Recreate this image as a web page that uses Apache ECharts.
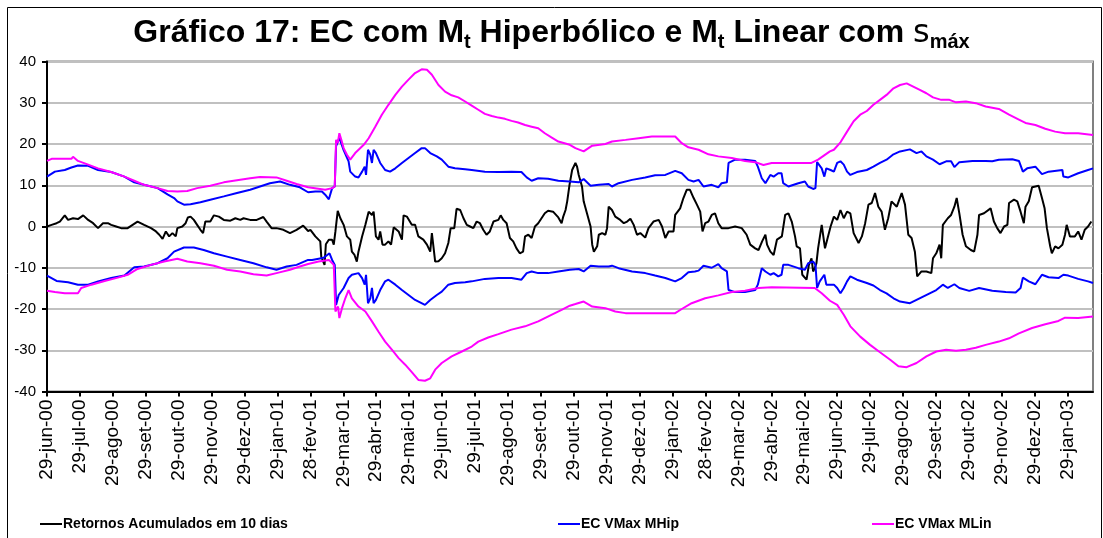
<!DOCTYPE html>
<html>
<head>
<meta charset="utf-8">
<script src="https://cdn.jsdelivr.net/npm/echarts@6/dist/echarts.min.js"></script>
<style>
html, body { margin: 0; padding: 0; background: #fff; }
#chart { width: 1103px; height: 538px; }
</style>
</head>
<body>
<div id="chart"></div>
<script>
// x = meses desde 29-jun-00 (um tick por mes)
const tickLabels = ['29-jun-00','29-jul-00','29-ago-00','29-set-00','29-out-00','29-nov-00','29-dez-00','29-jan-01','28-fev-01','29-mar-01','29-abr-01','29-mai-01','29-jun-01','29-jul-01','29-ago-01','29-set-01','29-out-01','29-nov-01','29-dez-01','29-jan-02','28-fev-02','29-mar-02','29-abr-02','29-mai-02','29-jun-02','29-jul-02','29-ago-02','29-set-02','29-out-02','29-nov-02','29-dez-02','29-jan-03'];

const retornos = [
[0.00,0],[0.14,0.4],[0.29,0.8],[0.39,1.2],[0.54,2.7],[0.64,1.6],[0.79,2.0],[0.94,1.8],[1.10,2.7],[1.25,1.6],[1.40,0.8],[1.55,-0.4],[1.70,0.8],[1.85,0.8],[1.95,0.4],[2.10,0],[2.25,-0.4],[2.45,-0.4],[2.60,0.4],[2.75,1.2],[2.95,0.4],[3.16,-0.4],[3.31,-1.2],[3.41,-2.0],[3.51,-3.0],[3.61,-1.2],[3.71,-2.4],[3.81,-1.6],[3.91,-2.4],[3.96,-0.4],[4.11,0],[4.21,0.8],[4.28,2.2],[4.36,2.4],[4.46,1.6],[4.56,0.4],[4.66,-0.8],[4.74,-1.6],[4.81,1.2],[4.96,1.2],[5.07,2.7],[5.22,2.4],[5.37,1.6],[5.57,1.4],[5.72,2.0],[5.87,1.6],[5.97,2.0],[6.17,1.6],[6.37,1.6],[6.57,2.3],[6.67,1.2],[6.82,-0.4],[6.97,-0.4],[7.18,-0.8],[7.38,-1.6],[7.58,-0.8],[7.78,0.2],[7.93,-1.1],
[8.00,-0.8],[8.15,-2.4],[8.30,-3.6],[8.33,-7.3],[8.38,-6.9],[8.43,-9.3],[8.47,-4.3],[8.56,-3.2],[8.66,-3.2],[8.71,-4.4],[8.76,-1.2],[8.83,3.8],[8.91,2.0],[9.01,0.4],[9.11,-2.4],[9.21,-3.2],[9.26,-6.1],[9.34,-6.9],[9.41,-8.5],[9.46,-6.1],[9.57,-2.4],[9.67,0.4],[9.77,3.6],[9.87,2.8],[9.92,3.6],[9.99,-2.4],[10.07,-3.2],[10.12,-1.2],[10.19,-4.4],[10.27,-4.4],[10.37,-3.6],[10.45,-4.4],[10.53,-0.2],[10.68,-1.2],[10.78,-3.2],[10.83,2.7],[10.93,2.4],[11.08,0.4],[11.18,0.4],[11.28,-2.4],[11.43,-3.2],[11.54,-4.4],[11.64,-6.1],[11.69,-1.6],[11.79,-8.5],[11.89,-8.4],[11.99,-7.7],[12.09,-6.5],[12.19,-4.0],[12.26,-0.4],[12.37,-0.4],[12.44,4.3],[12.55,4.0],[12.65,2.0],[12.75,0.4],[12.85,0],[12.95,-0.4],[13.05,1.2],[13.15,0.8],[13.25,-0.8],[13.35,-2.0],[13.45,-1.2],[13.56,1.2],[13.71,1.6],[13.78,2.7],[13.86,1.6],[13.96,0.8],[14.06,-2.8],[14.16,-3.6],[14.26,-5.3],[14.36,-6.5],[14.46,-6.1],[14.52,-2.4],[14.62,-2.0],[14.72,-2.8],[14.82,0],[14.92,0.8],[14.97,1.2],[15.12,3.2],[15.22,3.8],[15.37,3.6],[15.53,2.2],[15.63,0.8],[15.68,2.4],[15.75,4.0],
[15.80,6.1],[15.87,10.1],[15.95,13.7],[16.05,15.4],[16.10,14.5],[16.15,12.5],[16.25,9.7],[16.30,6.1],[16.40,3.2],[16.51,0],[16.56,-4.4],[16.61,-6.1],[16.71,-4.8],[16.76,-2.0],[16.86,-1.6],[16.96,-2.0],[17.01,-0.4],[17.06,4.8],[17.16,4.0],[17.26,2.4],[17.41,1.6],[17.52,0.8],[17.62,1.2],[17.72,1.9],[17.82,0.4],[17.92,-2.0],[18.02,-1.6],[18.17,-2.7],[18.27,-0.4],[18.42,1.2],[18.58,1.6],[18.68,0],[18.78,-2.8],[18.88,-1.2],[19.03,-1.2],[19.08,2.8],[19.23,4.4],[19.33,6.9],[19.43,8.9],[19.53,8.9],[19.64,6.9],[19.74,5.3],[19.84,3.6],[19.91,-1.2],[19.99,0.8],[20.09,1.2],[20.19,2.8],[20.29,3.2],[20.39,0.8],[20.49,-0.4],[20.70,-0.4],[20.90,0],[21.10,-0.4],[21.25,-2.0],[21.36,-4.4],[21.51,-5.3],[21.61,-5.7],[21.72,-3.6],[21.82,-2.0],[21.87,-4.4],[21.97,-6.1],[22.07,-6.9],[22.17,-3.2],[22.32,-2.4],[22.42,2.8],[22.52,3.2],[22.62,1.2],[22.72,-2.4],[22.77,-4.8],[22.87,-5.3],[22.94,-11.7],[23.07,-12.9],[23.14,-9.3],[23.22,-7.7],[23.27,-10.9],[23.32,-10.1],[23.37,-8.9],[23.42,-5.3],[23.53,0.4],[23.63,-5.3],
[23.80,0],[23.90,2.4],[24.00,1.6],[24.10,4.0],[24.20,2.0],[24.30,3.6],[24.40,3.2],[24.50,-1.6],[24.65,-4.0],[24.75,-2.4],[24.85,0.8],[24.95,5.3],[25.05,5.7],[25.15,8.1],[25.25,4.8],[25.35,3.6],[25.45,-0.8],[25.55,2.0],[25.65,6.1],[25.81,4.8],[25.96,8.1],[26.06,5.3],[26.16,-2.0],[26.26,-2.8],[26.36,-6.1],[26.43,-12.1],[26.56,-10.9],[26.71,-10.9],[26.86,-11.3],[26.91,-7.7],[27.01,-6.5],[27.11,-4.4],[27.16,-7.7],[27.21,0.4],[27.36,2.0],[27.46,2.8],[27.56,4.8],[27.63,6.9],[27.71,3.2],[27.81,-2.0],[27.91,-4.8],[28.06,-5.7],[28.16,-6.1],[28.26,-2.0],[28.31,2.8],[28.46,3.2],[28.66,4.4],[28.76,1.2],[28.86,-0.4],[28.96,-1.6],[29.07,0],[29.17,0.4],[29.22,5.7],[29.37,6.5],[29.47,6.1],[29.57,3.6],[29.67,0.8],[29.72,4.8],[29.82,6.1],[29.92,9.5],[30.02,9.7],[30.12,9.9],[30.22,6.9],[30.30,4.4],[30.37,-0.4],[30.47,-4.8],[30.52,-6.5],[30.62,-4.8],[30.72,-5.3],[30.84,-4.4],[30.92,-2.0],[30.97,0.4],[31.07,-2.4],[31.22,-2.4],[31.32,-1.2],[31.42,-3.2],[31.52,-0.8],[31.62,0],[31.72,1.2]
];

const mhipUp = [
[0.00,12.1],[0.24,13.3],[0.54,13.7],[0.74,14.3],[0.94,14.8],[1.25,14.7],[1.55,13.7],[1.95,13.2],[2.35,12.1],[2.65,10.7],[2.95,10.1],[3.36,9.3],[3.66,7.8],[3.86,6.9],[3.96,6.1],[4.16,5.3],[4.36,5.4],[4.66,5.9],[4.96,6.5],[5.37,7.3],[5.77,8.1],[6.17,8.9],[6.47,9.7],[6.77,10.5],[7.08,10.9],[7.38,10.1],[7.68,9.5],[7.93,8.3],
[8.15,8.5],[8.35,8.5],[8.45,7.7],[8.56,6.6],[8.66,9.3],[8.74,9.7],[8.78,19.5],[8.88,21.5],[9.01,18.5],[9.16,15.8],[9.21,13.3],[9.36,12.1],[9.46,11.9],[9.57,13.3],[9.65,14.5],[9.69,12.5],[9.75,18.6],[9.82,17.4],[9.87,15.4],[9.92,18.6],[9.99,17.8],[10.12,15.4],[10.27,13.7],[10.42,13.3],[10.58,14.1],[10.78,15.4],[10.98,16.6],[11.18,17.8],[11.38,19.0],[11.48,19.0],[11.64,17.8],[11.84,17.0],[11.99,16.2],[12.19,14.5],[12.39,14.1],[12.70,13.9],[12.90,13.7],[13.30,13.3],[13.71,13.2],[14.11,13.3],[14.41,13.2],[14.57,11.9],[14.72,11.1],[14.92,11.7],[15.22,11.6],[15.53,11.1],[15.88,10.9],
[16.15,10.7],[16.30,11.5],[16.51,9.9],[16.76,10.1],[17.06,10.3],[17.16,9.7],[17.36,10.5],[17.77,11.3],[18.17,11.9],[18.47,12.4],[18.78,12.5],[19.08,13.5],[19.28,12.9],[19.48,11.3],[19.64,10.9],[19.79,11.3],[19.94,9.7],[20.19,10.1],[20.39,9.5],[20.49,10.5],[20.65,10.7],[20.70,15.4],[20.90,16.2],[21.20,16.2],[21.51,15.9],[21.59,14.5],[21.71,11.7],[21.82,10.5],[21.97,12.5],[22.07,12.1],[22.21,12.9],[22.31,12.9],[22.36,10.5],[22.52,9.7],[22.82,10.5],[23.02,10.9],[23.12,9.7],[23.27,9.1],[23.34,9.3],[23.39,15.6],[23.53,14.1],[23.61,12.1],[23.67,14.1],
[23.80,13.7],[23.90,13.3],[24.00,15.4],[24.10,15.8],[24.20,15.0],[24.30,13.3],[24.40,12.5],[24.60,13.2],[24.90,13.7],[25.10,14.5],[25.30,15.4],[25.50,16.2],[25.71,17.5],[25.91,18.2],[26.21,18.7],[26.41,17.8],[26.56,18.2],[26.71,17.0],[26.91,16.2],[27.11,15.1],[27.31,15.8],[27.46,15.8],[27.56,14.4],[27.71,15.6],[28.11,15.9],[28.51,15.9],[28.71,15.8],[28.91,16.2],[29.32,16.3],[29.52,15.9],[29.64,13.3],[29.77,14.1],[30.02,14.5],[30.22,12.7],[30.42,13.3],[30.84,13.7],[30.87,12.1],[31.02,11.9],[31.32,12.9],[31.62,13.7],[31.77,14.1]
];

const mhipDn = [
[0.00,-11.9],[0.29,-13.2],[0.64,-13.5],[0.94,-14.1],[1.25,-14.1],[1.55,-13.3],[1.95,-12.5],[2.35,-11.9],[2.65,-9.9],[2.95,-9.7],[3.36,-8.9],[3.66,-7.7],[3.86,-6.1],[4.16,-5.1],[4.46,-5.1],[4.76,-5.7],[5.07,-6.5],[5.47,-7.3],[5.87,-8.1],[6.27,-8.9],[6.67,-9.9],[6.97,-10.5],[7.28,-9.7],[7.58,-9.3],[7.93,-8.1],
[8.05,-8.1],[8.25,-7.8],[8.40,-7.6],[8.51,-6.9],[8.58,-6.5],[8.66,-8.1],[8.74,-9.3],[8.78,-19.0],[8.86,-16.6],[9.01,-14.9],[9.16,-12.5],[9.26,-11.7],[9.46,-11.3],[9.57,-12.5],[9.65,-14.1],[9.69,-11.7],[9.75,-18.6],[9.82,-17.4],[9.87,-14.9],[9.92,-18.6],[9.99,-17.8],[10.12,-15.4],[10.27,-13.3],[10.37,-12.9],[10.58,-14.1],[10.78,-15.4],[10.98,-16.6],[11.18,-17.8],[11.48,-19.0],[11.64,-17.8],[11.84,-16.6],[11.99,-15.8],[12.19,-14.1],[12.39,-13.7],[12.70,-13.5],[12.90,-13.3],[13.30,-12.7],[13.71,-12.5],[14.11,-12.5],[14.41,-12.9],[14.57,-11.3],[14.72,-10.9],[14.92,-11.3],[15.22,-11.3],[15.53,-10.9],[15.88,-10.5],
[16.15,-10.3],[16.30,-10.9],[16.51,-9.5],[16.76,-9.7],[17.06,-9.7],[17.16,-9.5],[17.36,-10.1],[17.77,-10.9],[18.17,-11.3],[18.47,-11.9],[18.78,-12.5],[19.08,-13.3],[19.28,-12.5],[19.48,-11.1],[19.68,-10.9],[19.79,-10.7],[19.94,-9.5],[20.19,-10.0],[20.39,-9.1],[20.49,-10.1],[20.65,-10.9],[20.70,-15.4],[20.90,-15.9],[21.20,-15.9],[21.51,-15.4],[21.59,-14.1],[21.71,-10.1],[21.82,-10.9],[21.97,-11.7],[22.07,-11.3],[22.21,-12.1],[22.31,-11.7],[22.36,-9.3],[22.52,-9.3],[22.82,-10.1],[23.02,-10.5],[23.12,-8.9],[23.27,-8.5],[23.34,-9.3],[23.39,-14.9],[23.47,-13.3],[23.61,-11.7],[23.67,-14.1],
[23.80,-14.1],[23.90,-14.1],[24.00,-14.9],[24.10,-16.2],[24.20,-14.9],[24.30,-13.3],[24.40,-12.1],[24.60,-12.9],[24.90,-13.7],[25.10,-14.3],[25.30,-15.4],[25.50,-16.2],[25.71,-17.4],[25.91,-18.2],[26.21,-18.6],[26.41,-17.8],[26.61,-17.0],[26.81,-16.2],[27.01,-15.4],[27.21,-14.1],[27.36,-14.9],[27.56,-14.0],[27.71,-14.9],[28.01,-15.6],[28.31,-14.9],[28.71,-15.6],[29.12,-15.9],[29.42,-16.0],[29.57,-14.9],[29.64,-12.4],[29.82,-13.3],[30.02,-14.0],[30.22,-11.7],[30.42,-12.3],[30.72,-12.5],[30.87,-11.7],[31.02,-11.9],[31.32,-12.7],[31.62,-13.3],[31.77,-13.7]
];

const mlinUp = [
[0.00,15.9],[0.14,16.4],[0.74,16.4],[0.79,16.9],[0.94,15.9],[1.25,15.0],[1.55,14.1],[1.95,13.2],[2.35,12.1],[2.65,11.1],[2.95,10.1],[3.36,9.3],[3.66,8.6],[3.96,8.5],[4.26,8.6],[4.56,9.3],[4.96,9.9],[5.37,10.7],[5.77,11.2],[6.17,11.7],[6.47,12.0],[6.97,11.9],[7.28,11.1],[7.58,10.3],[7.93,9.5],
[8.45,8.9],[8.66,9.3],[8.74,9.7],[8.78,21.0],[8.83,20.2],[8.88,22.6],[8.94,21.0],[9.01,19.0],[9.11,17.4],[9.21,16.2],[9.36,17.8],[9.62,19.8],[9.77,21.4],[9.97,24.2],[10.17,27.1],[10.37,29.5],[10.58,31.9],[10.78,33.9],[10.98,35.6],[11.18,37.2],[11.38,38.1],[11.54,38.0],[11.69,36.8],[11.89,34.3],[12.09,32.7],[12.29,31.8],[12.49,31.3],[12.70,30.3],[12.90,29.3],[13.10,28.3],[13.30,27.3],[13.51,26.8],[13.71,26.4],[13.91,26.1],[14.11,25.6],[14.31,25.2],[14.52,24.6],[14.72,24.2],[14.92,23.8],[15.12,22.6],[15.32,21.6],[15.53,20.6],[15.88,19.8],
[16.05,19.0],[16.30,18.2],[16.56,19.6],[16.96,20.0],[17.16,20.6],[17.57,21.0],[17.97,21.4],[18.37,21.8],[19.08,21.8],[19.28,20.2],[19.48,19.2],[19.79,18.6],[20.09,17.5],[20.39,17.0],[20.80,16.6],[21.20,15.9],[21.51,15.6],[21.76,14.9],[22.01,15.4],[23.22,15.4],[23.42,16.2],[23.78,18.2],
[23.90,18.6],[24.10,20.4],[24.30,23.0],[24.50,25.5],[24.70,27.1],[24.90,28.0],[25.10,29.5],[25.30,30.7],[25.50,31.9],[25.71,33.5],[25.91,34.3],[26.11,34.7],[26.31,33.9],[26.51,33.1],[26.71,32.3],[26.91,31.3],[27.16,30.7],[27.41,30.7],[27.61,30.1],[27.91,30.3],[28.21,29.9],[28.51,29.1],[28.91,28.5],[29.22,27.1],[29.52,25.9],[29.72,25.1],[30.02,24.6],[30.32,23.7],[30.62,23.0],[30.92,22.6],[31.32,22.6],[31.77,22.2]
];

const mlinDn = [
[0.00,-15.6],[0.24,-15.9],[0.54,-16.2],[0.94,-16.2],[1.04,-14.9],[1.35,-14.1],[1.75,-13.2],[2.15,-12.4],[2.45,-11.7],[2.75,-10.3],[3.16,-9.3],[3.56,-8.5],[3.96,-7.8],[4.26,-8.5],[4.66,-8.9],[5.07,-9.5],[5.47,-10.5],[5.87,-10.9],[6.27,-11.6],[6.67,-11.9],[6.97,-11.3],[7.38,-10.5],[7.68,-9.7],[7.93,-9.1],
[8.25,-8.5],[8.56,-8.1],[8.71,-9.3],[8.76,-20.6],[8.84,-19.4],[8.88,-22.2],[8.96,-19.8],[9.06,-17.4],[9.16,-15.4],[9.26,-17.4],[9.46,-19.4],[9.67,-20.6],[9.87,-23.0],[10.07,-25.5],[10.27,-27.9],[10.48,-29.9],[10.68,-31.9],[10.88,-33.5],[11.08,-35.3],[11.28,-37.2],[11.48,-37.4],[11.64,-36.8],[11.79,-34.7],[11.99,-33.1],[12.29,-31.5],[12.60,-30.3],[12.90,-29.1],[13.10,-27.9],[13.40,-26.9],[13.71,-26.1],[14.11,-25.0],[14.52,-24.2],[14.92,-23.0],[15.32,-21.4],[15.63,-20.2],[15.88,-19.2],
[16.05,-18.8],[16.30,-18.2],[16.56,-19.4],[16.96,-19.8],[17.26,-20.6],[17.57,-21.0],[19.08,-21.0],[19.28,-20.0],[19.58,-18.6],[19.99,-17.4],[20.39,-16.7],[20.80,-15.9],[21.20,-15.6],[21.61,-14.9],[22.01,-14.7],[23.32,-14.9],[23.53,-16.2],[23.78,-18.0],
[24.00,-19.0],[24.20,-21.4],[24.40,-24.2],[24.70,-26.7],[25.00,-28.7],[25.30,-30.5],[25.61,-32.3],[25.86,-33.9],[26.11,-34.1],[26.41,-33.1],[26.71,-31.5],[27.01,-30.3],[27.31,-29.9],[27.61,-30.1],[27.91,-29.9],[28.21,-29.4],[28.51,-28.7],[28.91,-27.9],[29.22,-27.1],[29.52,-25.9],[29.92,-24.6],[30.32,-23.7],[30.72,-22.9],[30.92,-22.1],[31.32,-22.2],[31.77,-21.8]
];

const font = "'Liberation Sans', Arial, sans-serif";
const chart = echarts.init(document.getElementById('chart'));

function lineSeries(name, data, color) {
    return {
        name: name,
        type: 'line',
        data: data,
        showSymbol: false,
        symbol: 'none',
        lineStyle: { width: 2, color: color },
        itemStyle: { color: color },
        silent: true,
        animation: false
    };
}

function legendAt(name, left) {
    return {
        data: [name],
        left: left,
        top: 512,
        icon: 'rect',
        itemWidth: 22,
        itemHeight: 2,
        selectedMode: false,
        textStyle: { fontFamily: font, fontWeight: 'bold', fontSize: 14, color: '#000', padding: [0, 0, 0, -4] }
    };
}

const option = {
    backgroundColor: '#fff',
    animation: false,
    title: {
        text: '{a|Gráfico 17: EC com M}{s|t}{a| Hiperbólico e M}{s|t}{a| Linear com }{g|s}{s|máx}',
        left: 'center',
        top: 10,
        textStyle: {
            rich: {
                a: { fontFamily: font, fontWeight: 'bold', fontSize: 32, lineHeight: 37, color: '#000' },
                s: { fontFamily: font, fontWeight: 'bold', fontSize: 20, lineHeight: 24, verticalAlign: 'bottom', color: '#000' },
                g: { fontFamily: "'DejaVu Sans', sans-serif", fontWeight: 'normal', fontSize: 32, lineHeight: 37, color: '#000' }
            }
        }
    },
    legend: [
        legendAt('Retornos Acumulados em 10 dias', 35),
        legendAt('EC VMax MHip', 553),
        legendAt('EC VMax MLin', 867)
    ],
    grid: {
        left: 47, right: 10, top: 61.5, bottom: 146.5,
        show: true, borderColor: '#808080', borderWidth: 2, backgroundColor: 'transparent'
    },
    xAxis: {
        type: 'value',
        min: 0,
        max: 31.77,
        interval: 1,
        axisLine: { onZero: false, lineStyle: { color: '#000', width: 2 } },
        axisTick: { show: true, length: 5, lineStyle: { color: '#000', width: 2 }, customValues: tickLabels.map((_, i) => i) },
        axisLabel: {
            rotate: 90,
            margin: 8,
            fontFamily: font,
            fontSize: 19,
            color: '#000',
            customValues: tickLabels.map((_, i) => i),
            formatter: v => tickLabels[Math.round(v)] || ''
        },
        splitLine: { show: false }
    },
    yAxis: {
        type: 'value',
        min: -40,
        max: 40,
        interval: 10,
        axisLine: { show: true, lineStyle: { color: '#000', width: 2 } },
        axisTick: { show: true, length: 5, lineStyle: { color: '#000', width: 2 } },
        axisLabel: { fontFamily: font, fontSize: 15, color: '#000', margin: 11 },
        splitLine: { show: true, lineStyle: { color: '#c0c0c0', width: 2 } }
    },
    graphic: [{
        type: 'rect',
        shape: { x: 7.5, y: 7.5, width: 1094, height: 540 },
        style: { fill: null, stroke: '#000', lineWidth: 1 },
        silent: true
    }],
    series: [
        lineSeries('Retornos Acumulados em 10 dias', retornos, '#000000'),
        lineSeries('EC VMax MHip', mhipUp, '#0000ff'),
        lineSeries('EC VMax MHip', mhipDn, '#0000ff'),
        lineSeries('EC VMax MLin', mlinUp, '#ff00ff'),
        lineSeries('EC VMax MLin', mlinDn, '#ff00ff')
    ]
};

chart.setOption(option);
</script>
</body>
</html>
